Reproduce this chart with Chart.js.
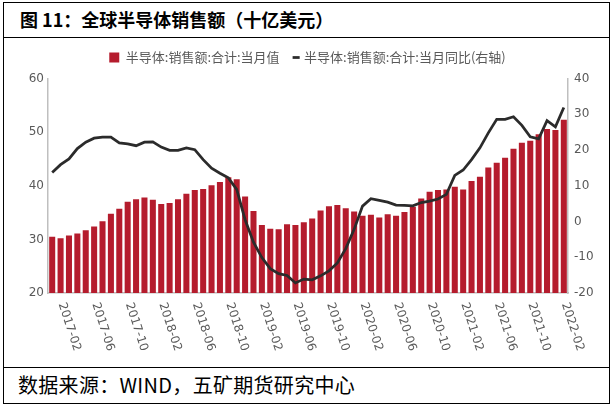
<!DOCTYPE html>
<html>
<head>
<meta charset="utf-8">
<script src="https://cdn.jsdelivr.net/npm/chart.js@4.4.1/dist/chart.umd.min.js"></script>
<style>
  html, body { margin: 0; padding: 0; background: #fff; }
  body { width: 615px; height: 415px; position: relative; overflow: hidden; font-family: "Noto Sans CJK SC", sans-serif; }
  #box { position: absolute; left: 3px; top: 2px; width: 607px; height: 402px; border: 1px solid #000; box-sizing: border-box; }
  #title { position: absolute; left: 0; top: 0; right: 0; height: 34px; border-bottom: 1px solid #000; font-weight: bold; font-size: 18px; line-height: 33px; padding-left: 16px; }
  #foot { position: absolute; left: 0; bottom: 0; right: 0; height: 35px; border-top: 1px solid #000; font-size: 20px; line-height: 34px; padding-left: 14px; letter-spacing: 0.3px; }
  #wrap { position: absolute; left: 0; top: 43px; width: 615px; height: 320px; }
</style>
</head>
<body>
<div id="box">
  <div id="title">图 11：全球半导体销售额（十亿美元）</div>
  <div id="foot">数据来源：WIND，五矿期货研究中心</div>
</div>
<div id="wrap"><canvas id="chart" width="615" height="320"></canvas></div>
<script>
// months shown on the category axis
const months = [
  '2017-01', '2017-02', '2017-03', '2017-04', '2017-05', '2017-06', '2017-07', '2017-08', '2017-09', '2017-10', '2017-11', '2017-12',
  '2018-01', '2018-02', '2018-03', '2018-04', '2018-05', '2018-06', '2018-07', '2018-08', '2018-09', '2018-10', '2018-11', '2018-12',
  '2019-01', '2019-02', '2019-03', '2019-04', '2019-05', '2019-06', '2019-07', '2019-08', '2019-09', '2019-10', '2019-11', '2019-12',
  '2020-01', '2020-02', '2020-03', '2020-04', '2020-05', '2020-06', '2020-07', '2020-08', '2020-09', '2020-10', '2020-11', '2020-12',
  '2021-01', '2021-02', '2021-03', '2021-04', '2021-05', '2021-06', '2021-07', '2021-08', '2021-09', '2021-10', '2021-11', '2021-12',
  '2022-01', '2022-02',
];

// labels actually printed under the axis
const tickLabels = [
  '2017-02', '2017-06', '2017-10', '2018-02', '2018-06', '2018-10', '2019-02', '2019-06',
  '2019-10', '2020-02', '2020-06', '2020-10', '2021-02', '2021-06', '2021-10', '2022-02',
];

// monthly sales, billion USD (left axis)
const salesValue = [
  30.5, 30.2, 30.7, 31.1, 31.7, 32.4, 33.4, 34.8, 35.7, 37.0, 37.5, 37.8,
  37.4, 36.6, 36.8, 37.5, 38.5, 39.2, 39.4, 40.1, 40.7, 41.6, 41.2, 38.0,
  35.3, 32.7, 32.0, 31.9, 32.8, 32.7, 33.2, 33.9, 35.4, 36.2, 36.4, 35.8,
  35.2, 34.4, 34.6, 34.1, 34.7, 34.4, 35.1, 36.1, 37.6, 38.9, 39.2, 39.3,
  39.8, 39.3, 40.9, 41.7, 43.4, 44.3, 45.2, 46.9, 48.0, 48.4, 49.6, 50.6,
  50.4, 52.3,
];

// year-on-year change, % (right axis)
const salesYoY = [
  13.7, 15.9, 17.5, 20.4, 22.2, 23.3, 23.6, 23.6, 22.0, 21.7, 21.2, 22.2,
  22.3, 20.8, 19.9, 19.9, 20.6, 20.1, 17.3, 14.9, 13.5, 12.2, 9.0, 0.5,
  -5.8, -10.1, -13.2, -14.6, -15.1, -17.2, -16.1, -16.3, -15.2, -13.8, -11.6, -7.6,
  -2.2, 4.3, 6.4, 5.9, 5.4, 4.6, 4.5, 4.4, 5.3, 5.7, 6.3, 7.6,
  12.9, 14.4, 17.3, 20.6, 24.8, 28.6, 28.6, 29.3, 26.9, 23.7, 23.1, 28.2,
  26.5, 31.9,
];

const tickFont = { family: 'DejaVu Sans', size: 12 };
const tickColor = '#595959';
const axisColor = '#bfbfbf';

// x labels are slanted clockwise, starting at the tick
const slantLabels = {
  id: 'slantLabels',
  afterDraw(chart) {
    const ctx = chart.ctx;
    const xs = chart.scales.x;
    ctx.save();
    ctx.font = '12px "DejaVu Sans"';
    ctx.fillStyle = tickColor;
    ctx.textAlign = 'left';
    ctx.textBaseline = 'middle';
    months.forEach((m, i) => {
      if (!tickLabels.includes(m)) return;
      ctx.save();
      ctx.translate(xs.getPixelForValue(i) + 1, xs.top + 10);
      ctx.rotate((72 * Math.PI) / 180);
      ctx.fillText(m, 0, 0);
      ctx.restore();
    });
    ctx.restore();
  },
};

new Chart(document.getElementById('chart'), {
  data: {
    labels: months,
    datasets: [
      {
        type: 'line',
        label: '半导体:销售额:合计:当月同比(右轴)',
        data: salesYoY,
        yAxisID: 'y1',
        borderColor: '#2b2b2b',
        backgroundColor: '#2b2b2b',
        borderWidth: 2.75,
        pointRadius: 0,
        pointStyle: 'dash',
        tension: 0,
        order: 1,
      },
      {
        type: 'bar',
        label: '半导体:销售额:合计:当月值',
        data: salesValue,
        yAxisID: 'y',
        backgroundColor: '#b51c2d',
        borderWidth: 0,
        barPercentage: 0.72,
        categoryPercentage: 1,
        pointStyle: 'rect',
        order: 2,
      },
    ],
  },
  options: {
    responsive: false,
    devicePixelRatio: 1,
    animation: false,
    layout: { padding: { left: 0, right: 0, top: 0, bottom: 70 } },
    plugins: {
      tooltip: { enabled: false },
      legend: {
        position: 'top',
        reverse: true,
        labels: {
          usePointStyle: true,
          boxWidth: 10,
          boxHeight: 10,
          padding: 8,
          color: tickColor,
          font: { family: 'Noto Sans CJK SC', size: 13 },
        },
      },
      // thin empty spacer between legend and plot
      subtitle: {
        display: true,
        text: ' ',
        position: 'top',
        weight: 500,
        font: { size: 1, lineHeight: 1 },
        padding: { top: 0, bottom: 3.5 },
      },
    },
    scales: {
      x: {
        grid: { display: false, drawTicks: false },
        border: { display: true, color: axisColor, width: 1.5 },
        ticks: { display: false },
      },
      y: {
        position: 'left',
        min: 20,
        max: 60,
        ticks: { stepSize: 10, color: tickColor, font: tickFont, padding: 4 },
        grid: { display: false, drawTicks: false },
        border: { display: true, color: axisColor, width: 1.5 },
        afterFit: (s) => { s.width = 48; },
      },
      y1: {
        position: 'right',
        min: -20,
        max: 40,
        ticks: { stepSize: 10, color: tickColor, font: tickFont, padding: 6 },
        grid: { display: false, drawTicks: false },
        border: { display: true, color: axisColor, width: 1.5 },
        afterFit: (s) => { s.width = 47; },
      },
    },
  },
  plugins: [slantLabels],
});
</script>
</body>
</html>
